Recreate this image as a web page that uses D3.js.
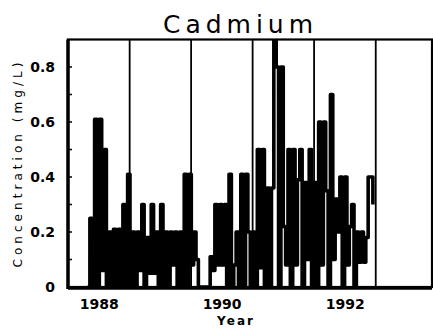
<!DOCTYPE html>
<html>
<head>
<meta charset="utf-8">
<script src="https://cdnjs.cloudflare.com/ajax/libs/d3/7.8.5/d3.min.js"></script>
<style>
    body { margin: 0; background: #fff; }
    text { font-family: "DejaVu Sans", sans-serif; fill: #000; }
</style>
</head>
<body>
<div id="cadmium_chart"></div>
<script>
// Cadmium samples, one every two weeks from late April 1988 (mg/L)
const sampleStart = new Date(1988, 3, 26);
const sampleStepDays = 14;
const cadmium = [
    0.0, 0.25, 0.0, 0.61, 0.0, 0.61, 0.06, 0.5, 0.0, 0.2,
    0.0, 0.21, 0.0, 0.21, 0.0, 0.3, 0.0, 0.41, 0.0, 0.2,
    0.0, 0.2, 0.06, 0.3, 0.0, 0.18, 0.05, 0.3, 0.05, 0.2,
    0.0, 0.3, 0.0, 0.2, 0.0, 0.2, 0.08, 0.2, 0.0, 0.2,
    0.0, 0.41, 0.0, 0.41, 0.08, 0.2, 0.1, 0.0, 0.0, 0.0,
    0.0, 0.0, 0.11, 0.06, 0.3, 0.08, 0.3, 0.08, 0.3, 0.0,
    0.41, 0.0, 0.08, 0.2, 0.0, 0.41, 0.0, 0.41, 0.2, 0.0,
    0.2, 0.0, 0.5, 0.07, 0.5, 0.0, 0.36, 0.0, 0.36, 1.0,
    0.8, 0.0, 0.8, 0.22, 0.08, 0.5, 0.0, 0.5, 0.08, 0.39,
    0.5, 0.0, 0.38, 0.1, 0.5, 0.0, 0.38, 0.0, 0.6, 0.08,
    0.6, 0.35, 0.0, 0.7, 0.1, 0.32, 0.2, 0.4, 0.0, 0.4,
    0.08, 0.22, 0.3, 0.0, 0.2, 0.09, 0.2, 0.09, 0.18, 0.4,
    0.4, 0.3
];

// Axis labels
const yearLabels = ["1988", "1990", "1992"];
const yearBoundaries = ["1989", "1990", "1991", "1992", "1993"];
const yTicks = [0, 0.2, 0.4, 0.6, 0.8];
const yTickLabels = ["0", "0.2", "0.4", "0.6", "0.8"];
const yMinorTicks = [0.1, 0.2, 0.3, 0.4, 0.5, 0.6, 0.7, 0.8];

const canvWidth = 433, canvHeight = 332;
const plot = {left: 68, right: 432, top: 39.5, bottom: 287};

const svg = d3.select('#cadmium_chart')
    .append('svg')
    .attr('width', canvWidth)
    .attr('height', canvHeight);

const x = d3.scaleTime()
    .domain([new Date(1988, 0, 1), new Date(1993, 11, 1)])
    .range([plot.left, plot.right]);

const y = d3.scaleLinear()
    .domain([0, 0.9])
    .range([plot.bottom, plot.top]);

const data = cadmium.map((v, i) => ({
    date: d3.timeDay.offset(sampleStart, i * sampleStepDays),
    value: v
}));

// Clip so that off-scale values run into the top of the frame
svg.append('clipPath')
    .attr('id', 'plot-clip')
    .append('rect')
    .attr('x', plot.left)
    .attr('y', plot.top)
    .attr('width', plot.right - plot.left)
    .attr('height', plot.bottom - plot.top);

// Year boundary lines
svg.append('g')
    .selectAll('line')
    .data(yearBoundaries)
    .join('line')
    .attr('x1', d => x(new Date(+d, 0, 1)))
    .attr('x2', d => x(new Date(+d, 0, 1)))
    .attr('y1', plot.top)
    .attr('y2', plot.bottom)
    .attr('stroke', '#000')
    .attr('stroke-width', 1.8);

// Concentration trace, held at each value until the next sample
const line = d3.line()
    .x(d => x(d.date))
    .y(d => y(d.value))
    .curve(d3.curveStepAfter);

svg.append('path')
    .datum(data)
    .attr('clip-path', 'url(#plot-clip)')
    .attr('fill', 'none')
    .attr('stroke', '#000')
    .attr('stroke-width', 3.6)
    .attr('stroke-linejoin', 'round')
    .attr('d', line);

// Frame
svg.append('rect')
    .attr('x', plot.left)
    .attr('y', plot.top)
    .attr('width', plot.right - plot.left)
    .attr('height', plot.bottom - plot.top)
    .attr('fill', 'none')
    .attr('stroke', '#000')
    .attr('stroke-width', 2.2);

svg.append('line')
    .attr('x1', plot.left).attr('x2', plot.left)
    .attr('y1', plot.top).attr('y2', plot.bottom + 2)
    .attr('stroke', '#000')
    .attr('stroke-width', 3.5);

svg.append('line')
    .attr('x1', plot.left).attr('x2', plot.right)
    .attr('y1', plot.bottom + 1).attr('y2', plot.bottom + 1)
    .attr('stroke', '#000')
    .attr('stroke-width', 3.5);

// Small inward ticks on the left axis
svg.append('g')
    .selectAll('line')
    .data(yMinorTicks)
    .join('line')
    .attr('x1', plot.left)
    .attr('x2', plot.left + 4)
    .attr('y1', d => y(d))
    .attr('y2', d => y(d))
    .attr('stroke', '#000')
    .attr('stroke-width', 1.5);

// Y axis labels
const yAxis = d3.axisLeft(y)
    .tickValues(yTicks)
    .tickSize(0)
    .tickPadding(13)
    .tickFormat((d, i) => yTickLabels[i]);

svg.append('g')
    .attr('transform', `translate(${plot.left},0)`)
    .call(yAxis)
    .call(g => g.select('.domain').remove())
    .selectAll('text')
    .style('font-size', '14px')
    .style('font-weight', 'bold');

// X axis labels, centred in each labelled year
const xAxis = d3.axisBottom(x)
    .tickValues(yearLabels.map(d => new Date(+d, 6, 1)))
    .tickSize(0)
    .tickPadding(12)
    .tickFormat(d3.timeFormat('%Y'));

svg.append('g')
    .attr('transform', `translate(0,${plot.bottom})`)
    .call(xAxis)
    .call(g => g.select('.domain').remove())
    .selectAll('text')
    .style('font-size', '14px')
    .style('font-weight', 'bold');

// Titles
svg.append('text')
    .attr('x', 238)
    .attr('y', 33)
    .attr('text-anchor', 'middle')
    .attr('textLength', 150)
    .attr('lengthAdjust', 'spacing')
    .style('font-size', '25px')
    .text('Cadmium');

svg.append('text')
    .attr('x', 235)
    .attr('y', 325)
    .attr('text-anchor', 'middle')
    .attr('textLength', 36)
    .attr('lengthAdjust', 'spacing')
    .style('font-size', '12px')
    .style('font-weight', 'bold')
    .text('Year');

svg.append('text')
    .attr('transform', 'translate(22,165) rotate(-90)')
    .attr('text-anchor', 'middle')
    .attr('textLength', 205)
    .attr('lengthAdjust', 'spacing')
    .style('font-size', '12px')
    .text('Concentration (mg/L)');
</script>
</body>
</html>
